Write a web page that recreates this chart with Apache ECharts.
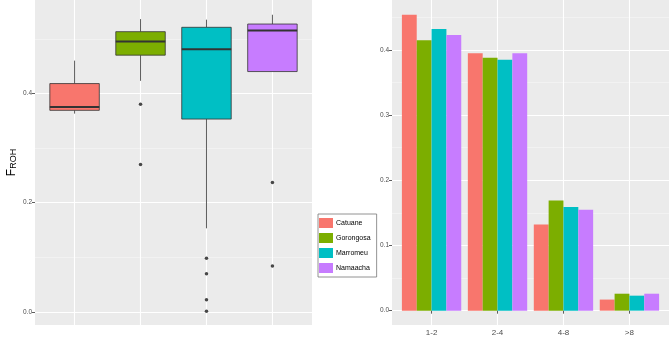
<!DOCTYPE html>
<html>
<head>
<meta charset="utf-8">
<script src="https://cdn.jsdelivr.net/npm/echarts@6/dist/echarts.min.js"></script>
<style>
  html, body { margin: 0; padding: 0; background: #fff; }
  #chart { width: 669px; height: 341px; }
</style>
</head>
<body>
<div id="chart"></div>
<script>
// populations
var regions = ['Catuane', 'Gorongosa', 'Marromeu', 'Namaacha'];
var regionColors = ['#F8766D', '#7CAE00', '#00BFC4', '#C77CFF'];

// FROH box plots (min, q1, median, q3, max) per population
var boxMin = [0.363, 0.423, 0.153, 0.440];
var boxQ1 = [0.369, 0.470, 0.353, 0.440];
var boxMedian = [0.375, 0.495, 0.481, 0.515];
var boxQ3 = [0.418, 0.513, 0.521, 0.527];
var boxMax = [0.460, 0.536, 0.535, 0.544];
var outCatuane = [];
var outGorongosa = [0.380, 0.270];
var outMarromeu = [0.098, 0.070, 0.022, 0.001];
var outNamaacha = [0.237, 0.084];

// ROH length classes (Mb) and proportions
var lengthClasses = ['1-2', '2-4', '4-8', '>8'];
var catuaneFreq = [0.454, 0.395, 0.132, 0.017];
var gorongosaFreq = [0.415, 0.388, 0.169, 0.026];
var marromeuFreq = [0.432, 0.385, 0.159, 0.023];
var namaachaFreq = [0.423, 0.395, 0.155, 0.026];

// tick labels
var leftTicks = [0, 0.2, 0.4];
var leftMinor = [0.1, 0.3, 0.5];
var rightTicks = [0, 0.1, 0.2, 0.3, 0.4];
var rightMinor = [0.05, 0.15, 0.25, 0.35, 0.45];

var outliers = [outCatuane, outGorongosa, outMarromeu, outNamaacha];
var freqs = [catuaneFreq, gorongosaFreq, marromeuFreq, namaachaFreq];
var positions = [1, 2, 3, 4];

var chart = echarts.init(document.getElementById('chart'));

var tickFont = { fontFamily: 'Liberation Sans', fontSize: 6.5, color: '#4D4D4D' };

function renderBox(params, api) {
  var x = api.value(0);
  var hw = 0.375;
  var pMin = api.coord([x, api.value(1)]);
  var pQ1 = api.coord([x, api.value(2)]);
  var pQ3 = api.coord([x, api.value(4)]);
  var pMax = api.coord([x, api.value(5)]);
  var tl = api.coord([x - hw, api.value(4)]);
  var br = api.coord([x + hw, api.value(2)]);
  var ml = api.coord([x - hw, api.value(3)]);
  var mr = api.coord([x + hw, api.value(3)]);
  var lineStyle = { stroke: '#333333', lineWidth: 0.8 };
  return {
    type: 'group',
    children: [
      { type: 'line', shape: { x1: pMin[0], y1: pMin[1], x2: pQ1[0], y2: pQ1[1] }, style: lineStyle },
      { type: 'line', shape: { x1: pQ3[0], y1: pQ3[1], x2: pMax[0], y2: pMax[1] }, style: lineStyle },
      { type: 'rect', shape: { x: tl[0], y: tl[1], width: br[0] - tl[0], height: br[1] - tl[1] },
        style: { fill: api.visual('color'), stroke: '#333333', lineWidth: 0.8 } },
      { type: 'line', shape: { x1: ml[0], y1: ml[1], x2: mr[0], y2: mr[1] },
        style: { stroke: '#333333', lineWidth: 2 } }
    ]
  };
}

function makeBarRenderer(k) {
  return function (params, api) {
    var w = 0.225;
    var x = api.value(0) + (k - 1.5) * w;
    var tl = api.coord([x - w / 2, api.value(1)]);
    var br = api.coord([x + w / 2, 0]);
    return {
      type: 'rect',
      shape: { x: tl[0], y: tl[1], width: br[0] - tl[0], height: br[1] - tl[1] },
      style: { fill: api.visual('color') }
    };
  };
}

var series = [];
regions.forEach(function (name, i) {
  series.push({
    name: name,
    type: 'custom',
    xAxisIndex: 0,
    yAxisIndex: 0,
    itemStyle: { color: regionColors[i] },
    renderItem: renderBox,
    encode: { x: 0, y: [1, 2, 3, 4, 5] },
    data: [[positions[i], boxMin[i], boxQ1[i], boxMedian[i], boxQ3[i], boxMax[i]]],
    z: 3
  });
});

var outlierData = [];
outliers.forEach(function (arr, i) {
  arr.forEach(function (v) { outlierData.push([positions[i], v]); });
});
series.push({
  name: 'outliers',
  type: 'scatter',
  xAxisIndex: 0,
  yAxisIndex: 0,
  symbolSize: 3.5,
  itemStyle: { color: '#1A1A1A' },
  data: outlierData,
  z: 4
});

regions.forEach(function (name, k) {
  series.push({
    name: name,
    type: 'custom',
    xAxisIndex: 1,
    yAxisIndex: 2,
    itemStyle: { color: regionColors[k] },
    renderItem: makeBarRenderer(k),
    encode: { x: 0, y: 1 },
    data: freqs[k].map(function (v, j) { return [positions[j], v]; }),
    z: 3
  });
});

function majorY(grid, min, max, ticks, name) {
  return {
    type: 'value', gridIndex: grid, min: min, max: max,
    name: name || '',
    axisLine: { show: false },
    axisTick: { show: true, length: 3, customValues: ticks, lineStyle: { color: '#333333', width: 0.8 } },
    axisLabel: { customValues: ticks, margin: 3, formatter: function (v) { return v.toFixed(1); },
      fontFamily: tickFont.fontFamily, fontSize: tickFont.fontSize, color: tickFont.color },
    splitLine: { show: true, lineStyle: { color: '#FFFFFF', width: 1.1 } }
  };
}

function minorY(grid, min, max, ticks) {
  return {
    type: 'value', gridIndex: grid, min: min, max: max,
    axisLine: { show: false },
    axisTick: { show: false, customValues: ticks },
    axisLabel: { show: false },
    splitLine: { show: true, lineStyle: { color: '#F4F4F4', width: 0.8 } }
  };
}

var leftY = majorY(0, -0.024, 0.571, leftTicks, '{f|F}{r|ROH}');
leftY.nameLocation = 'middle';
leftY.nameRotate = 90;
leftY.nameGap = 17;
leftY.nameTextStyle = {
  fontFamily: 'Liberation Sans', color: '#000000',
  rich: {
    f: { fontSize: 12, fontFamily: 'Liberation Sans', color: '#000000', verticalAlign: 'bottom' },
    r: { fontSize: 9, fontFamily: 'Liberation Sans', color: '#000000', verticalAlign: 'bottom' }
  }
};

var option = {
  animation: false,
  backgroundColor: '#FFFFFF',
  grid: [
    { left: 35, top: 0, width: 277, height: 325, show: true, backgroundColor: '#EBEBEB', borderWidth: 0 },
    { left: 392, top: 0, width: 277, height: 325, show: true, backgroundColor: '#EBEBEB', borderWidth: 0 }
  ],
  xAxis: [
    {
      type: 'value', gridIndex: 0, min: 0.4, max: 4.6,
      axisLine: { show: false },
      axisTick: { show: false, customValues: positions },
      axisLabel: { show: false },
      splitLine: { show: true, lineStyle: { color: '#FFFFFF', width: 1.1 } }
    },
    {
      type: 'value', gridIndex: 1, min: 0.4, max: 4.6,
      axisLine: { show: false },
      axisTick: { show: true, length: 3, customValues: positions, lineStyle: { color: '#333333', width: 0.8 } },
      axisLabel: {
        customValues: positions, margin: 4,
        formatter: function (v) { return lengthClasses[Math.round(v) - 1]; },
        fontFamily: 'Liberation Sans', fontSize: 8, color: '#4D4D4D'
      },
      splitLine: { show: true, lineStyle: { color: '#FFFFFF', width: 1.1 } }
    }
  ],
  yAxis: [
    leftY,
    minorY(0, -0.024, 0.571, leftMinor),
    majorY(1, -0.022, 0.4766, rightTicks),
    minorY(1, -0.022, 0.4766, rightMinor)
  ],
  legend: {
    data: regions,
    orient: 'vertical',
    left: 318,
    top: 214,
    padding: [4, 6, 4, 1],
    itemWidth: 14,
    itemHeight: 10,
    itemGap: 5,
    icon: 'rect',
    borderColor: '#777777',
    borderWidth: 0.8,
    backgroundColor: '#FFFFFF',
    selectedMode: false,
    itemStyle: { borderWidth: 0 },
    textStyle: { fontFamily: 'Liberation Sans', fontSize: 7, color: '#000000', padding: [0, 0, 0, -2] }
  },
  series: series
};

chart.setOption(option);
</script>
</body>
</html>
